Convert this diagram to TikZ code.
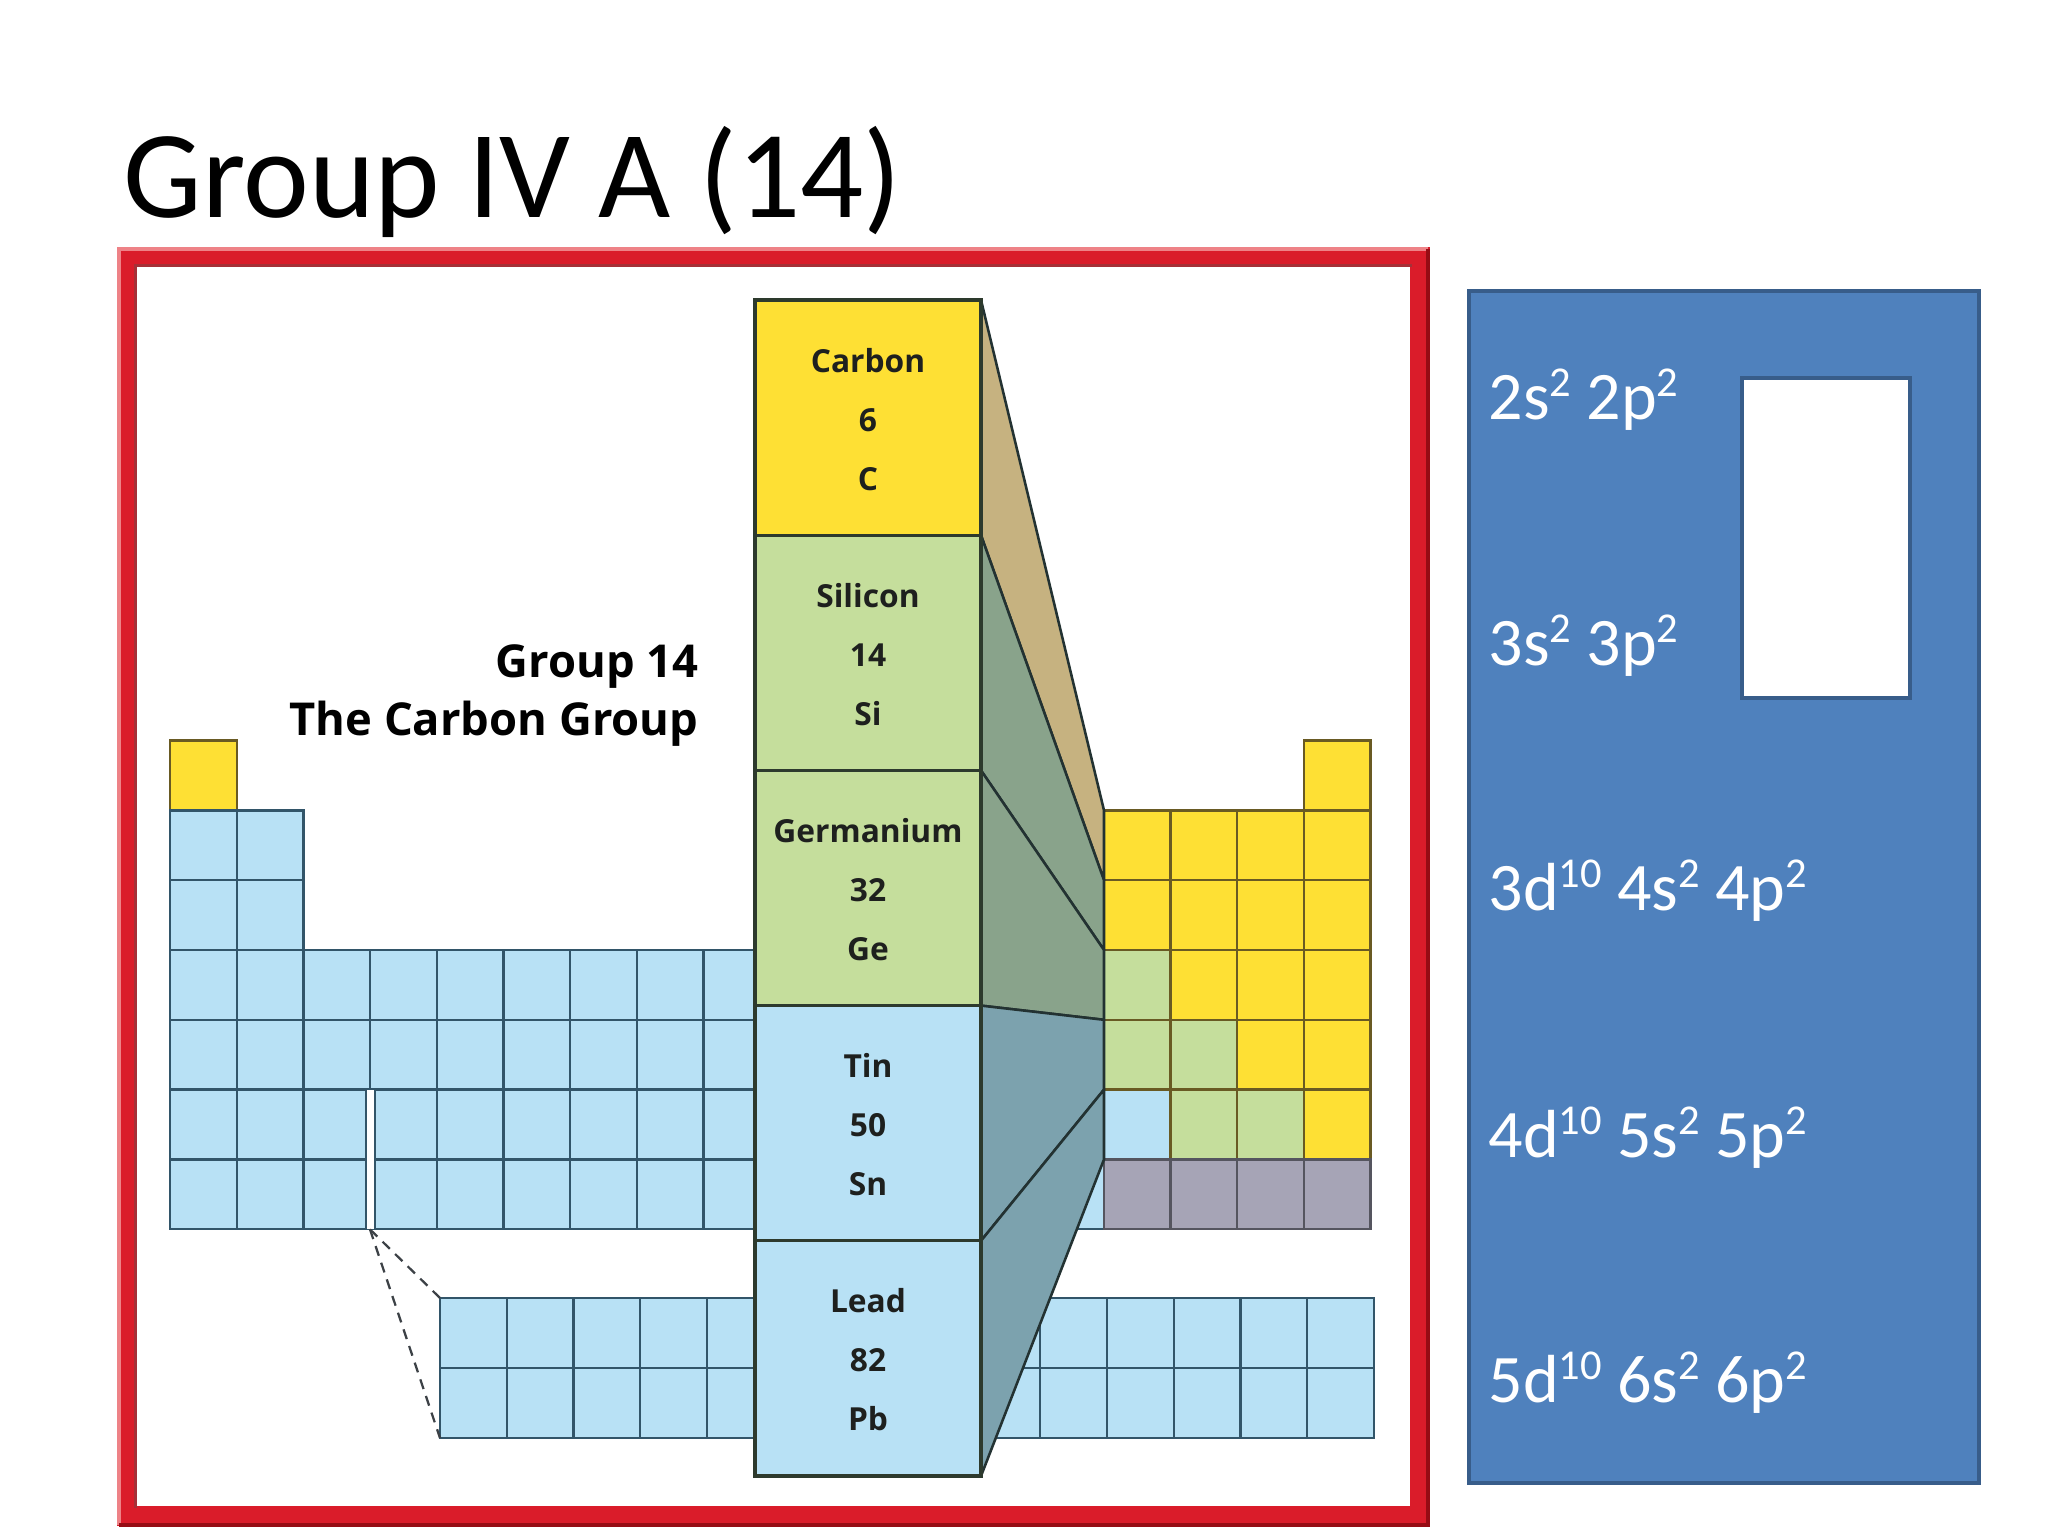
\documentclass[tikz,border=0pt]{standalone}
\usepackage{fontspec}
\setmainfont{Carlito}
\newfontfamily\lblfont{Open Sans}
\definecolor{cyel}{RGB}{254,224,52}
\definecolor{lyel}{RGB}{105,90,35}
\definecolor{cgrn}{RGB}{197,222,156}
\definecolor{lgrn}{RGB}{80,95,60}
\definecolor{cblu}{RGB}{184,225,245}
\definecolor{lblu}{RGB}{50,85,105}
\definecolor{cgry}{RGB}{166,164,182}
\definecolor{lgry}{RGB}{85,85,95}
\definecolor{faceC}{RGB}{198,178,128}
\definecolor{faceS}{RGB}{137,163,139}
\definecolor{faceT}{RGB}{124,162,174}
\definecolor{faceline}{RGB}{35,50,50}
\definecolor{colline}{RGB}{45,58,45}
\definecolor{txtc}{RGB}{30,32,30}
\definecolor{pblue}{RGB}{79,129,189}
\definecolor{pborder}{RGB}{56,93,138}
\definecolor{framered}{RGB}{218,28,42}
\definecolor{framelight}{RGB}{238,130,135}
\definecolor{framedark}{RGB}{150,12,20}
\definecolor{dashc}{RGB}{60,65,70}
\newcommand\supx[1]{\raisebox{8pt}{\fontsize{15}{15}\selectfont #1}}
\newcommand\pc[4]{\filldraw[fill=#3,draw=#4,line width=0.8pt] ({170+66.7*(#1)},{740.6+69.8*((#2)-1)}) rectangle ++(66.7,69.8);}
\begin{document}
\begin{tikzpicture}[x=0.352881pt,y=-0.352881pt,
  elemtxt/.style={anchor=base,inner sep=0,text=txtc,font=\lblfont\bfseries\fontsize{11.2}{13}\selectfont},
  grouptxt/.style={anchor=base east,inner sep=0,text=black,font=\lblfont\bfseries\fontsize{16}{20}\selectfont},
  conftxt/.style={anchor=base west,inner sep=0,text=white,font=\fontsize{24}{28}\selectfont},
  face/.style={draw=faceline,line width=0.9pt,line join=round}]
\useasboundingbox (0,0) rectangle (2048,1536);
\fill[white] (0,0) rectangle (2048,1536);

% title
\node[anchor=base west,inner sep=0,font=\fontsize{44}{52}\selectfont] (title) at (123,218) {Group IV A (14)};

% red frame
\draw[line width=7.06pt,framered] (127,257) rectangle (1420,1516);
\draw[line width=1.3pt,framelight] (118.8,1525) -- (118.8,248.8) -- (1428,248.8);
\draw[line width=1.3pt,framedark] (1428.2,248.8) -- (1428.2,1525.2) -- (118.8,1525.2);
\draw[line width=1pt,framedark!85] (135.5,1507.5) -- (135.5,265.5) -- (1411.5,265.5);

% left block
\pc{0}{1}{cyel}{lyel}
\foreach \r in {2,3} \foreach \c in {0,1} {\pc{\c}{\r}{cblu}{lblu}}
\foreach \r in {4,...,7} \foreach \c in {0,...,13} {\pc{\c}{\r}{cblu}{lblu}}
% right block
\pc{17}{1}{cyel}{lyel}
\foreach \r in {2,3} \foreach \c in {14,...,17} {\pc{\c}{\r}{cyel}{lyel}}
\pc{14}{4}{cgrn}{lyel}
\foreach \c in {15,16,17} {\pc{\c}{4}{cyel}{lyel}}
\foreach \c in {14,15} {\pc{\c}{5}{cgrn}{lyel}}
\foreach \c in {16,17} {\pc{\c}{5}{cyel}{lyel}}
\pc{14}{6}{cblu}{lyel}
\foreach \c in {15,16} {\pc{\c}{6}{cgrn}{lyel}}
\pc{17}{6}{cyel}{lyel}
\foreach \c in {14,...,17} {\pc{\c}{7}{cgry}{lgry}}

% gap strip
\filldraw[fill=white,draw=lblu,line width=0.5pt] (366,1089.6) rectangle (375,1229.4);

% f-block
\foreach \r in {0,1} \foreach \c in {0,...,13}
  {\filldraw[fill=cblu,draw=lblu,line width=0.8pt] ({440+66.7*\c},{1298+70*\r}) rectangle ++(66.7,70);}

% dashed connectors
\coordinate (gapbot) at (370,1229.4);
\coordinate (ftl) at (440,1298);
\coordinate (fbl) at (440,1438);
\draw[dashc,line width=0.8pt,dash pattern=on 3.6pt off 2.6pt] (gapbot) -- (ftl);
\draw[dashc,line width=0.8pt,dash pattern=on 3.6pt off 2.6pt] (gapbot) -- (fbl);

% faces
\filldraw[face,fill=faceC] (981,300) -- (1104,810.4) -- (1104,880.2) -- (981,535.2) -- cycle;
\filldraw[face,fill=faceS] (981,535.2) -- (1104,880.2) -- (1104,950) -- (981,770.4) -- cycle;
\filldraw[face,fill=faceS] (981,770.4) -- (1104,950) -- (1104,1019.8) -- (981,1005.6) -- cycle;
\filldraw[face,fill=faceT] (981,1005.6) -- (1104,1019.8) -- (1104,1089.6) -- (981,1240.8) -- cycle;
\filldraw[face,fill=faceT] (981,1240.8) -- (1104,1089.6) -- (1104,1159.4) -- (981,1476) -- cycle;

% central column
\foreach \f [count=\i from 0] in {cyel,cgrn,cgrn,cblu,cblu}
  {\filldraw[fill=\f,draw=colline,line width=1.1pt] (755,{300+235.2*\i}) rectangle ++(226,235.2);}
\foreach \n/\z/\s [count=\i from 0] in {Carbon/6/C,Silicon/14/Si,Germanium/32/Ge,Tin/50/Sn,Lead/82/Pb}
{
  \node[elemtxt] (name\i) at (868,{300+235.2*\i+72}) {\n};
  \node[elemtxt] (num\i) at (868,{300+235.2*\i+131}) {\z};
  \node[elemtxt] (sym\i) at (868,{300+235.2*\i+190}) {\s};
}

% group label
\node[grouptxt] (g14) at (699,677) {Group 14};
\node[grouptxt] (g14b) at (699,735) {The Carbon Group};

% blue panel
\filldraw[fill=pblue,draw=pborder,line width=1.4pt] (1469,291) rectangle (1979,1483);
\filldraw[fill=white,draw=pborder,line width=1.4pt] (1742,378) rectangle (1910,698);
\node[conftxt] (c2) at (1488,419) {2s\supx{2} 2p\supx{2}};
\node[conftxt] (c3) at (1488,665) {3s\supx{2} 3p\supx{2}};
\node[conftxt] (c4) at (1488,910) {3d\supx{10} 4s\supx{2} 4p\supx{2}};
\node[conftxt] (c5) at (1488,1157) {4d\supx{10} 5s\supx{2} 5p\supx{2}};
\node[conftxt] (c6) at (1488,1402) {5d\supx{10} 6s\supx{2} 6p\supx{2}};
\end{tikzpicture}
\end{document}
